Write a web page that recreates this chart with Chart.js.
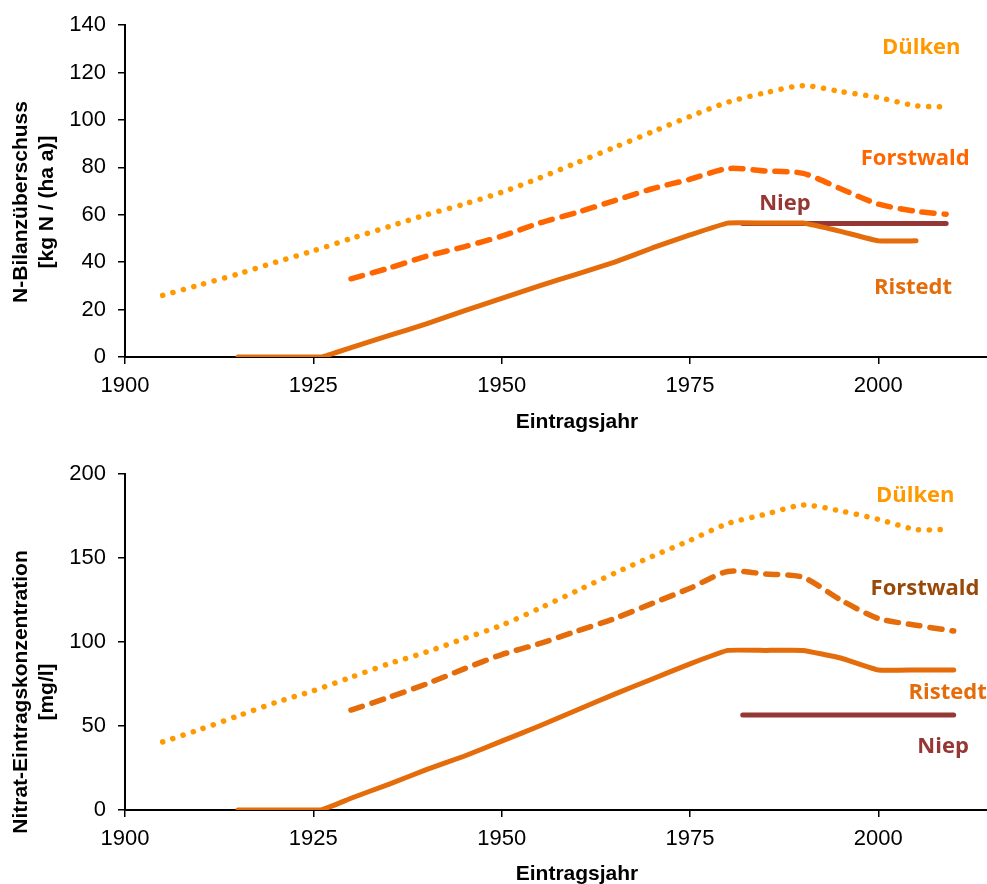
<!DOCTYPE html>
<html>
<head>
<meta charset="utf-8">
<script src="https://cdn.jsdelivr.net/npm/chart.js@4.4.1/dist/chart.umd.min.js"></script>
<style>
html, body { margin: 0; padding: 0; background: #fff; overflow: hidden; }
#wrap { position: relative; width: 987px; height: 884px; overflow: hidden; }
canvas { position: absolute; left: 0; }
</style>
</head>
<body>
<div id="wrap">
  <canvas id="bilanzChart" width="1040" height="442" style="top:0px"></canvas>
  <canvas id="nitratChart" width="1040" height="460" style="top:440px"></canvas>
</div>
<script>
// x-axis ticks (years)
const yearTicks = [1900, 1925, 1950, 1975, 2000];

// --- top chart: N-Bilanzüberschuss [kg N / (ha a)] ---
const dulkenYears1 = [1905, 1910, 1915, 1920, 1925, 1930, 1935, 1940, 1945, 1950, 1955, 1960, 1965, 1970, 1975, 1980, 1985, 1990, 1995, 2000, 2005, 2009];
const dulkenBilanz = [26, 30.5, 35, 40, 44.8, 50, 55, 60, 64.5, 69.5, 75.5, 82, 88.5, 95, 101.5, 107.5, 111.5, 114.5, 112, 109.5, 106, 105.5];

const forstwaldYears1 = [1930, 1935, 1940, 1945, 1950, 1955, 1960, 1965, 1970, 1975, 1980, 1985, 1990, 1995, 2000, 2005, 2009];
const forstwaldBilanz = [33, 37.5, 42.5, 46.5, 51, 56.5, 61, 66, 71, 75, 79.5, 78.5, 77.5, 71, 64.5, 61.5, 60.2];

const ristedtYears1 = [1915, 1920, 1926, 1930, 1935, 1940, 1945, 1950, 1955, 1960, 1965, 1970, 1975, 1980, 1985, 1990, 1995, 2000, 2005];
const ristedtBilanz = [0, 0, 0, 4, 9, 14, 19.5, 24.7, 30, 35, 40, 46, 51.5, 56.5, 56.5, 56.5, 53, 49, 49];

const niepYears1 = [1982, 2009];
const niepBilanz = [56.3, 56.3];

// --- bottom chart: Nitrat-Eintragskonzentration [mg/l] ---
const dulkenYears2 = [1905, 1910, 1915, 1920, 1925, 1930, 1935, 1940, 1945, 1950, 1955, 1960, 1965, 1970, 1975, 1980, 1985, 1990, 1995, 2000, 2005, 2009];
const dulkenNitrat = [40.5, 48, 56, 64, 71, 79, 87, 94, 102, 110, 120, 130.5, 141, 151, 160.5, 170.5, 176, 181.5, 178, 173, 167, 167];

const forstwaldYears2 = [1930, 1935, 1940, 1945, 1950, 1955, 1960, 1965, 1970, 1975, 1980, 1985, 1990, 1995, 2000, 2005, 2010];
const forstwaldNitrat = [59.5, 67, 75, 84, 92.5, 99, 106.5, 114, 123, 132, 142, 140.5, 138.5, 125, 114, 110, 106.5];

const ristedtYears2 = [1915, 1920, 1926, 1930, 1935, 1940, 1945, 1950, 1955, 1960, 1965, 1970, 1975, 1980, 1985, 1990, 1995, 2000, 2005, 2010];
const ristedtNitrat = [0, 0, 0, 7, 15.3, 24, 32, 41, 50, 59.5, 69, 78, 87, 95, 95, 95, 90.5, 83.3, 83.3, 83.3];

const niepYears2 = [1982, 2010];
const niepNitrat = [56.5, 56.5];

function pts(xs, ys) {
    return xs.map((x, i) => ({ x: x, y: ys[i] }));
}

// Beschriftungen der Linien und y-Achsentitel
const labelPlugin = {
    id: 'lineLabels',
    afterDraw(chart, args, opts) {
        const ctx = chart.ctx;
        const xs = chart.scales.x;
        const ys = chart.scales.y;
        ctx.save();
        ctx.font = 'bold 22px "Open Sans"';
        ctx.textAlign = 'center';
        ctx.textBaseline = 'middle';
        opts.items.forEach(it => {
            ctx.fillStyle = it.color;
            ctx.fillText(it.text, xs.getPixelForValue(it.year), ys.getPixelForValue(it.value));
        });
        ctx.font = 'bold 21px "Liberation Sans"';
        ctx.fillStyle = '#000';
        opts.title.forEach((line, i) => {
            ctx.save();
            ctx.translate(opts.titleX[i], opts.titleY);
            ctx.rotate(-Math.PI / 2);
            ctx.fillText(line, 0, 0);
            ctx.restore();
        });
        ctx.restore();
    }
};

function makeChart(id, cfg) {
    const ctx = document.getElementById(id).getContext('2d');
    const tickFont = { family: '"Liberation Sans", Arial, sans-serif', size: 22 };
    return new Chart(ctx, {
        type: 'line',
        data: { datasets: cfg.datasets },
        options: {
            responsive: false,
            animation: false,
            layout: { padding: { top: cfg.padTop, right: 11, left: 0, bottom: 0 } },
            plugins: {
                legend: { display: false },
                tooltip: { enabled: false },
                lineLabels: { items: cfg.labels, title: cfg.yTitle, titleX: [21, 47], titleY: cfg.yTitleY }
            },
            elements: { point: { radius: 0 } },
            scales: {
                x: {
                    type: 'linear',
                    min: 1900,
                    max: 2020,
                    afterBuildTicks: s => { s.ticks = yearTicks.map(v => ({ value: v })); },
                    afterFit: s => { s.height = cfg.xHeight; },
                    ticks: { color: '#000', font: tickFont, padding: 9, maxRotation: 0, callback: v => String(v) },
                    grid: { drawOnChartArea: false, tickLength: 7, color: '#000', lineWidth: 1.5 },
                    border: { color: '#000', width: 2 },
                    title: {
                        display: true,
                        text: 'Eintragsjahr',
                        color: '#000',
                        font: { family: '"Liberation Sans", Arial, sans-serif', size: 21, weight: 'bold' },
                        padding: { top: 0, bottom: cfg.xTitlePad }
                    }
                },
                y: {
                    min: 0,
                    max: cfg.yMax,
                    afterFit: s => { s.width = 125; },
                    ticks: { stepSize: cfg.yStep, color: '#000', font: tickFont, padding: 12 },
                    grid: { drawOnChartArea: false, tickLength: 7, color: '#000', lineWidth: 1.5 },
                    border: { color: '#000', width: 2 }
                }
            }
        },
        plugins: [labelPlugin]
    });
}

function lineSet(label, data, color, style) {
    const ds = {
        label: label,
        data: data,
        borderColor: color,
        borderWidth: 5.5,
        borderCapStyle: 'round',
        borderJoinStyle: 'round',
        tension: 0.25,
        fill: false
    };
    if (style === 'dot') { ds.borderDash = [0.1, 10.6]; ds.borderWidth = 5.5; }
    if (style === 'dash') { ds.borderDash = [12, 10]; }
    if (style === 'solid') { ds.tension = 0.1; ds.borderWidth = 5; }
    return ds;
}

makeChart('bilanzChart', {
    padTop: 23,
    xHeight: 85,
    xTitlePad: 7,
    yMax: 140,
    yStep: 20,
    yTitle: ['N-Bilanzüberschuss', '[kg N / (ha a)]'],
    yTitleY: 202,
    datasets: [
        lineSet('Dülken', pts(dulkenYears1, dulkenBilanz), '#ff9900', 'dot'),
        lineSet('Forstwald', pts(forstwaldYears1, forstwaldBilanz), '#ff6600', 'dash'),
        lineSet('Ristedt', pts(ristedtYears1, ristedtBilanz), '#e46c0a', 'solid'),
        lineSet('Niep', pts(niepYears1, niepBilanz), '#953735', 'solid')
    ],
    labels: [
        { text: 'Dülken', year: 2005.7, value: 130.3, color: '#ff9900' },
        { text: 'Forstwald', year: 2004.9, value: 83.8, color: '#ff6600' },
        { text: 'Niep', year: 1987.6, value: 64.5, color: '#953735' },
        { text: 'Ristedt', year: 2004.6, value: 29.3, color: '#e46c0a' }
    ]
});

makeChart('nitratChart', {
    padTop: 34,
    xHeight: 90,
    xTitlePad: 13,
    yMax: 200,
    yStep: 50,
    yTitle: ['Nitrat-Eintragskonzentration', '[mg/l]'],
    yTitleY: 252,
    datasets: [
        lineSet('Dülken', pts(dulkenYears2, dulkenNitrat), '#ff9900', 'dot'),
        lineSet('Forstwald', pts(forstwaldYears2, forstwaldNitrat), '#e46c0a', 'dash'),
        lineSet('Ristedt', pts(ristedtYears2, ristedtNitrat), '#e46c0a', 'solid'),
        lineSet('Niep', pts(niepYears2, niepNitrat), '#953735', 'solid')
    ],
    labels: [
        { text: 'Dülken', year: 2004.9, value: 186.9, color: '#ff9900' },
        { text: 'Forstwald', year: 2006.2, value: 131.5, color: '#984807' },
        { text: 'Ristedt', year: 2009.2, value: 69.6, color: '#e46c0a' },
        { text: 'Niep', year: 2008.6, value: 37.5, color: '#953735' }
    ]
});
</script>
</body>
</html>
